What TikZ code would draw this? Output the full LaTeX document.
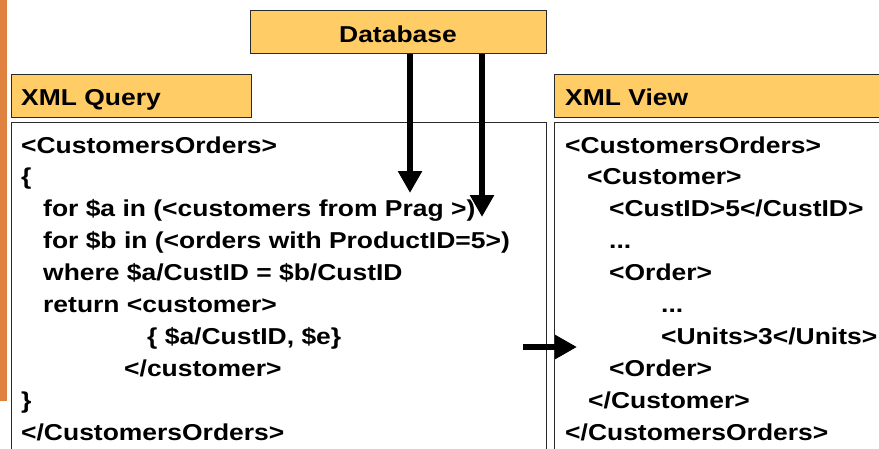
\documentclass[tikz,border=0pt]{standalone}
\usepackage{fontspec}
\setmainfont{Liberation Sans}[FakeStretch=1.15]
\usetikzlibrary{arrows.meta}
\definecolor{hdrfill}{HTML}{FFCC66}
\definecolor{stripcol}{HTML}{E0823F}
\definecolor{edgecol}{HTML}{2A2A2A}
\tikzset{
  boxnode/.style={draw=edgecol, line width=1.2pt, rectangle, inner sep=0pt, anchor=north west},
  hdrnode/.style={boxnode, fill=hdrfill},
  txt/.style={inner sep=0pt, font=\fontsize{23}{28}\selectfont\bfseries},
  codeline/.style={txt, anchor=base west},
  bigarrow/.style={line width=6pt, -{Triangle[length=22pt,width=23pt]}},
}
\begin{document}
\begin{tikzpicture}[x=1pt,y=-1pt]
\useasboundingbox (0,0) rectangle (879,448);
\clip (0,0) rectangle (879,448);
\fill[stripcol] (0,0) rectangle (7,401);
% boxes
\node[hdrnode, minimum width=296pt, minimum height=43pt] (db) at (250,10) {};
\node[txt, anchor=base] (dblabel) at (398,42) {Database};
\node[hdrnode, minimum width=240pt, minimum height=43pt] (qhead) at (11,74) {};
\node[codeline] (qlabel) at (21,105) {XML Query};
\node[boxnode, minimum width=535pt, minimum height=340pt] (qbody) at (11,122) {};
\node[hdrnode, minimum width=340pt, minimum height=43pt] (vhead) at (554,74) {};
\node[codeline] (vlabel) at (565,105) {XML View};
\node[boxnode, minimum width=340pt, minimum height=340pt] (vbody) at (554,122) {};
% query text
\node[codeline] (q1) at (21,153) {<CustomersOrders>};
\node[codeline] (q2) at (21,184.9) {\{};
\node[codeline] (q3) at (43,216.8) {for \$a in (<customers from Prag >)};
\node[codeline] (q4) at (43,248.7) {for \$b in (<orders with ProductID=5>)};
\node[codeline] (q5) at (43,280.6) {where \$a/CustID = \$b/CustID};
\node[codeline] (q6) at (43,312.5) {return <customer>};
\node[codeline] (q7) at (147,344.4) {\{ \$a/CustID, \$e\}};
\node[codeline] (q8) at (124,376.3) {</customer>};
\node[codeline] (q9) at (21,408.2) {\}};
\node[codeline] (q10) at (21,440.1) {</CustomersOrders>};
% view text
\node[codeline] (v1) at (565,153) {<CustomersOrders>};
\node[codeline] (v2) at (587,184.9) {<Customer>};
\node[codeline] (v3) at (609,216.8) {<CustID>5</CustID>};
\node[codeline] (v4) at (609,248.7) {...};
\node[codeline] (v5) at (609,280.6) {<Order>};
\node[codeline] (v6) at (661,312.5) {...};
\node[codeline] (v7) at (661,344.4) {<Units>3</Units>};
\node[codeline] (v8) at (609,376.3) {<Order>};
\node[codeline] (v9) at (588,408.2) {</Customer>};
\node[codeline] (v10) at (565,440.1) {</CustomersOrders>};
% arrows
\coordinate (t1) at (410,193);
\coordinate (t2) at (482,217);
\coordinate (s3) at (523,347);
\coordinate (t3) at (577,347);
\draw[bigarrow] (db.south -| t1) -- (t1);
\draw[bigarrow] (db.south -| t2) -- (t2);
\draw[bigarrow] (s3) -- (t3);
\end{tikzpicture}
\end{document}
